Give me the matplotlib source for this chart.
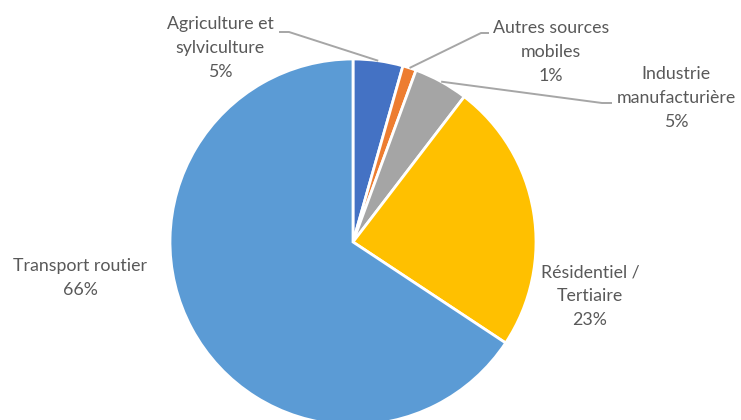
import matplotlib
matplotlib.use("Agg")
import matplotlib.pyplot as plt
import numpy as np

categories = ["Agriculture et\nsylviculture", "Autres sources\nmobiles", "Industrie\nmanufacturière",
              "Résidentiel /\nTertiaire", "Transport routier"]
values = [4.4, 1.2, 4.8, 23.9, 65.7]
pct_labels = ["5%", "1%", "5%", "23%", "66%"]
colors = ["#4472C4", "#ED7D31", "#A5A5A5", "#FFC000", "#5B9BD5"]

W, H = 741, 420
fig = plt.figure(figsize=(W / 100, H / 100), dpi=100)
ax = fig.add_axes([0, 0, 1, 1])
cx, cy, r = 353, H - 242, 183
wedges, _ = ax.pie(values, center=(cx, cy), radius=r, startangle=90, counterclock=False,
                   colors=colors, wedgeprops=dict(edgecolor="white", linewidth=2))
ax.set_xlim(0, W)
ax.set_ylim(0, H)
ax.set_aspect("equal")
ax.axis("off")

font = dict(family=["Lato", "DejaVu Sans"], fontsize=12.8, color="#595959",
            ha="center", va="center", linespacing=1.6)

# label positions (pixel coords, top-origin) and leader elbows
label_pos = [(220, 48), (551, 52), (676, 98), (590, 296), (80, 278)]
elbows = [[(279, 32), (289, 32)], [(489, 33), (481, 33)], [(612, 103), (602, 103)], None, None]

for i, w in enumerate(wedges):
    x, y = label_pos[i]
    ax.text(x, H - y, categories[i] + "\n" + pct_labels[i], **font)
    if elbows[i] is not None:
        mid = np.deg2rad((w.theta1 + w.theta2) / 2)
        ax_x = cx + r * np.cos(mid)
        ax_y = cy + r * np.sin(mid)
        (x0, y0), (x1, y1) = elbows[i]
        ax.plot([x0, x1, ax_x], [H - y0, H - y1, ax_y], color="#A6A6A6", lw=1.4,
                solid_capstyle="butt", zorder=5)

fig.savefig("out.png", dpi=100, facecolor="white")
